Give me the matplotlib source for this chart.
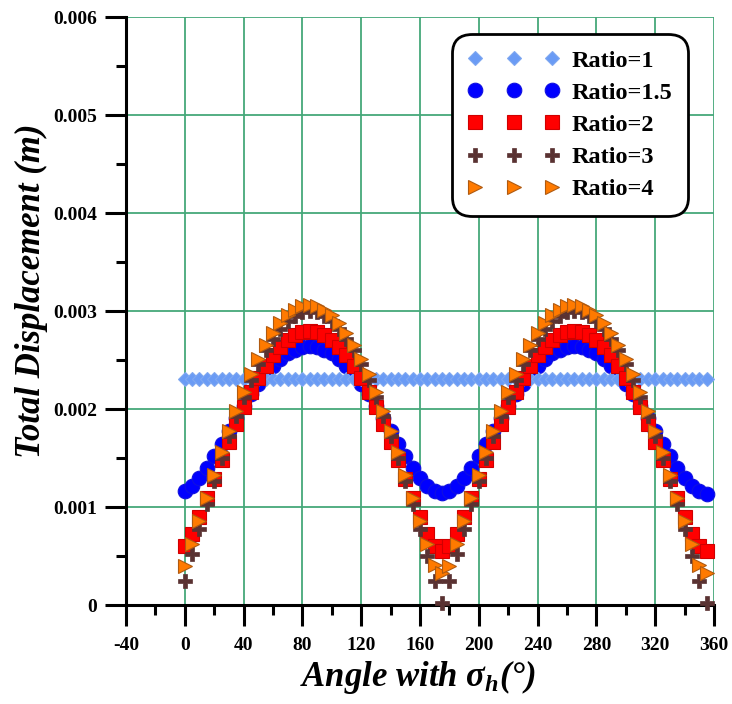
import matplotlib
matplotlib.use("Agg")
import matplotlib.pyplot as plt
from matplotlib.ticker import MultipleLocator, FuncFormatter

plt.rcParams['font.family'] = ['Liberation Serif', 'DejaVu Serif']
plt.rcParams['font.weight'] = 'bold'
plt.rcParams['axes.unicode_minus'] = False
plt.rcParams['mathtext.fontset'] = 'custom'
plt.rcParams['mathtext.it'] = 'Liberation Serif:bold:italic'
plt.rcParams['mathtext.rm'] = 'Liberation Serif:bold'

# angle with sigma_h (deg), every 5 degrees
angle = list(range(0, 360, 5))

# total displacement (m)
ratio_1 = [0.00231, 0.00231, 0.00231, 0.00231, 0.00231, 0.00231, 0.00231, 0.00231, 0.00231,
           0.00231, 0.00231, 0.00231, 0.00231, 0.00231, 0.00231, 0.00231, 0.00231, 0.00231,
           0.00231, 0.00231, 0.00231, 0.00231, 0.00231, 0.00231, 0.00231, 0.00231, 0.00231,
           0.00231, 0.00231, 0.00231, 0.00231, 0.00231, 0.00231, 0.00231, 0.00231, 0.00231,
           0.00231, 0.00231, 0.00231, 0.00231, 0.00231, 0.00231, 0.00231, 0.00231, 0.00231,
           0.00231, 0.00231, 0.00231, 0.00231, 0.00231, 0.00231, 0.00231, 0.00231, 0.00231,
           0.00231, 0.00231, 0.00231, 0.00231, 0.00231, 0.00231, 0.00231, 0.00231, 0.00231,
           0.00231, 0.00231, 0.00231, 0.00231, 0.00231, 0.00231, 0.00231, 0.00231, 0.00231]

ratio_15 = [0.001159, 0.001213, 0.001296, 0.001401, 0.001521, 0.001648, 0.001779, 0.001909,
            0.002033, 0.002151, 0.002259, 0.002356, 0.002441, 0.002511, 0.002567, 0.002607,
            0.002632, 0.002640, 0.002632, 0.002607, 0.002567, 0.002511, 0.002441, 0.002356,
            0.002259, 0.002151, 0.002033, 0.001909, 0.001779, 0.001648, 0.001521, 0.001401,
            0.001296, 0.001213, 0.001159, 0.001140,
            0.001159, 0.001213, 0.001296, 0.001401, 0.001521, 0.001648, 0.001779, 0.001909,
            0.002033, 0.002151, 0.002259, 0.002356, 0.002441, 0.002511, 0.002567, 0.002607,
            0.002632, 0.002640, 0.002632, 0.002607, 0.002567, 0.002511, 0.002441, 0.002356,
            0.002259, 0.002151, 0.002033, 0.001909, 0.001779, 0.001648, 0.001521, 0.001401,
            0.001296, 0.001213, 0.001159, 0.001130]

ratio_2 = [0.000600, 0.000728, 0.000899, 0.001088, 0.001284, 0.001479, 0.001668, 0.001849,
           0.002018, 0.002174, 0.002315, 0.002440, 0.002548, 0.002638, 0.002708, 0.002759,
           0.002790, 0.002800, 0.002790, 0.002759, 0.002708, 0.002638, 0.002548, 0.002440,
           0.002315, 0.002174, 0.002018, 0.001849, 0.001668, 0.001479, 0.001284, 0.001088,
           0.000899, 0.000728, 0.000600, 0.000550,
           0.000600, 0.000728, 0.000899, 0.001088, 0.001284, 0.001479, 0.001668, 0.001849,
           0.002018, 0.002174, 0.002315, 0.002440, 0.002548, 0.002638, 0.002708, 0.002759,
           0.002790, 0.002800, 0.002790, 0.002759, 0.002708, 0.002638, 0.002548, 0.002440,
           0.002315, 0.002174, 0.002018, 0.001849, 0.001668, 0.001479, 0.001284, 0.001088,
           0.000899, 0.000728, 0.000600, 0.000550]

ratio_3 = [0.000240, 0.000521, 0.000776, 0.001026, 0.001268, 0.001500, 0.001721, 0.001928,
           0.002121, 0.002298, 0.002458, 0.002598, 0.002719, 0.002819, 0.002898, 0.002954,
           0.002989, 0.003000, 0.002989, 0.002954, 0.002898, 0.002819, 0.002719, 0.002598,
           0.002458, 0.002298, 0.002121, 0.001928, 0.001721, 0.001500, 0.001268, 0.001026,
           0.000776, 0.000500, 0.000240, 0.000020,
           0.000240, 0.000521, 0.000776, 0.001026, 0.001268, 0.001500, 0.001721, 0.001928,
           0.002121, 0.002298, 0.002458, 0.002598, 0.002719, 0.002819, 0.002898, 0.002954,
           0.002989, 0.003000, 0.002989, 0.002954, 0.002898, 0.002819, 0.002719, 0.002598,
           0.002458, 0.002298, 0.002121, 0.001928, 0.001721, 0.001500, 0.001268, 0.001026,
           0.000776, 0.000500, 0.000240, 0.000020]

ratio_4 = [0.000400, 0.000623, 0.000854, 0.001092, 0.001327, 0.001557, 0.001776, 0.001983,
           0.002176, 0.002354, 0.002514, 0.002655, 0.002777, 0.002878, 0.002957, 0.003014,
           0.003049, 0.003060, 0.003049, 0.003014, 0.002957, 0.002878, 0.002777, 0.002655,
           0.002514, 0.002354, 0.002176, 0.001983, 0.001776, 0.001557, 0.001327, 0.001092,
           0.000854, 0.000623, 0.000410, 0.000330,
           0.000400, 0.000623, 0.000854, 0.001092, 0.001327, 0.001557, 0.001776, 0.001983,
           0.002176, 0.002354, 0.002514, 0.002655, 0.002777, 0.002878, 0.002957, 0.003014,
           0.003049, 0.003060, 0.003049, 0.003014, 0.002957, 0.002878, 0.002777, 0.002655,
           0.002514, 0.002354, 0.002176, 0.001983, 0.001776, 0.001557, 0.001327, 0.001092,
           0.000854, 0.000623, 0.000410, 0.000330]

labels = ['Ratio=1', 'Ratio=1.5', 'Ratio=2', 'Ratio=3', 'Ratio=4']

fig = plt.figure(figsize=(7.32, 7.04), dpi=100)
ax = fig.add_axes([0.1721, 0.1406, 0.8033, 0.8352])

# (data, marker style, zorder) - circles sit under the diamonds in the original
styles = [
    (ratio_1, dict(marker='D', ms=7, mfc='#6A9BF5', mec='#7FA8F0', mew=0.8), 4),
    (ratio_15, dict(marker='o', ms=10.5, mfc='#0000FF', mec='#1010E0', mew=0.8), 3),
    (ratio_2, dict(marker='s', ms=9.5, mfc='#FF0000', mec='#D00000', mew=0.8), 5),
    (ratio_3, dict(marker='P', ms=9.5, mfc='#5A3232', mec='#5A3232', mew=0.5), 6),
    (ratio_4, dict(marker='>', ms=9.5, mfc='#FF7A00', mec='#B05A10', mew=0.8), 7),
]

for (vals, st, z), lab in zip(styles, labels):
    ax.plot(angle, vals, ls='none', label=lab, zorder=z, clip_on=False, **st)

ax.set_xlim(-40, 360)
ax.set_ylim(0, 0.006)
ax.xaxis.set_major_locator(MultipleLocator(40))
ax.xaxis.set_minor_locator(MultipleLocator(20))
ax.yaxis.set_major_locator(MultipleLocator(0.001))
ax.yaxis.set_minor_locator(MultipleLocator(0.0005))
ax.yaxis.set_major_formatter(FuncFormatter(lambda v, p: '0' if abs(v) < 1e-12 else '%.3f' % v))

ax.set_axisbelow(True)
ax.grid(True, which='major', color='#45A87A', lw=1.3)

for s in ['top', 'right']:
    ax.spines[s].set_visible(False)
for s in ['left', 'bottom']:
    ax.spines[s].set_linewidth(2.2)

ax.tick_params(which='major', direction='out', length=15, width=2.2, labelsize=14)
ax.tick_params(which='minor', direction='out', length=7.5, width=2.2)
ax.tick_params(axis='x', which='major', pad=8)
ax.tick_params(axis='y', which='major', pad=6)

ax.set_xlabel(r'Angle with $\sigma_h$(°)', fontsize=25, fontstyle='italic', fontweight='bold')
ax.set_ylabel('Total Displacement (m)', fontsize=25, fontstyle='italic', fontweight='bold')
ax.xaxis.set_label_coords(0.497, -0.09)
ax.yaxis.set_label_coords(-0.133, 0.535)

leg = ax.legend(loc='upper right', bbox_to_anchor=(0.968, 0.984), numpoints=3,
                handlelength=3.75, handletextpad=0.5, labelspacing=0.42,
                borderpad=0.45, fancybox=True, framealpha=1, edgecolor='black',
                prop={'family': 'Liberation Serif', 'weight': 'bold', 'size': 17.5})
leg.get_frame().set_linewidth(2)
leg.get_frame().set_boxstyle('round', pad=0.2, rounding_size=0.8)

fig.savefig('out.png', dpi=100)
